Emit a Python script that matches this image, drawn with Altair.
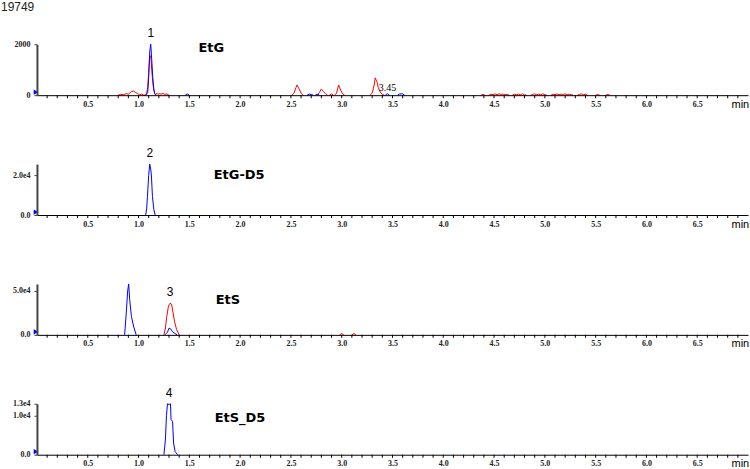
import altair as alt
import pandas as pd

X_DOMAIN = [0.0, 7.0]

# ---------------- EtG panel ----------------
ETG_RED = [
    ([0.80, 0.82, 0.85, 0.88, 0.90, 0.93, 0.95, 0.97, 0.99, 1.01, 1.03, 1.05, 1.07, 1.08, 1.09, 1.10, 1.11, 1.12,
      1.13, 1.14, 1.15, 1.16, 1.17, 1.18, 1.19, 1.20, 1.22, 1.24, 1.26, 1.28, 1.30],
     [0, 30, 20, 60, 40, 140, 160, 110, 60, 20, 40, 10, 0, 80, 300, 900, 1500, 1550,
      1000, 500, 200, 60, 20, 80, 30, 60, 40, 70, 30, 50, 0]),
    ([2.51, 2.53, 2.55, 2.56, 2.58, 2.60, 2.62], [0, 80, 300, 400, 250, 80, 0]),
    ([2.76, 2.78, 2.80, 2.82, 2.84, 2.86], [0, 100, 240, 150, 60, 0]),
    ([2.88, 2.90, 2.92], [0, 50, 0]),
    ([2.93, 2.95, 2.96, 2.97, 2.99, 3.01, 3.03], [0, 80, 250, 400, 200, 50, 0]),
    ([3.28, 3.30, 3.32, 3.33, 3.35, 3.36, 3.38, 3.40, 3.42], [0, 80, 400, 680, 500, 300, 120, 30, 0]),
    ([4.37, 4.39, 4.41], [0, 30, 0]),
    ([4.45, 4.47, 4.49, 4.51, 4.53, 4.55, 4.57, 4.59, 4.61, 4.63, 4.65], [0, 40, 20, 50, 20, 50, 30, 40, 20, 30, 0]),
    ([4.68, 4.70, 4.72, 4.74, 4.76, 4.78, 4.80, 4.82], [0, 40, 20, 40, 20, 50, 20, 0]),
    ([4.86, 4.88, 4.90, 4.92, 4.94, 4.96, 4.98, 5.00, 5.02], [0, 30, 50, 20, 40, 20, 50, 20, 0]),
    ([5.06, 5.08, 5.10, 5.12, 5.14, 5.16, 5.18, 5.20, 5.22, 5.24, 5.26, 5.28], [0, 40, 20, 50, 20, 40, 30, 50, 20, 40, 20, 0]),
    ([5.32, 5.34, 5.36, 5.38, 5.40, 5.42], [0, 30, 50, 20, 40, 0]),
    ([5.50, 5.52, 5.54], [0, 30, 0]),
    ([5.60, 5.62, 5.64], [0, 30, 0]),
]
ETG_BLUE = [
    ([1.07, 1.09, 1.10, 1.11, 1.12, 1.13, 1.14, 1.15, 1.16, 1.17], [0, 100, 700, 1700, 2000, 1400, 700, 250, 60, 0]),
    ([1.46, 1.48, 1.50], [0, 50, 0]),
    ([2.66, 2.68, 2.70, 2.72], [0, 40, 30, 0]),
    ([2.74, 2.76, 2.78], [0, 40, 0]),
    ([3.43, 3.45, 3.47], [0, 60, 0]),
    ([3.55, 3.57, 3.60, 3.62], [0, 50, 50, 0]),
]

# ---------------- EtG-D5 panel ----------------
ETGD5_RED = []
ETGD5_BLUE = [
    ([1.07, 1.08, 1.088, 1.10, 1.11, 1.12, 1.127, 1.137, 1.15, 1.163],
     [0, 3000, 9400, 20000, 25600, 23000, 19600, 9400, 3000, 0]),
]

# ---------------- EtS panel ----------------
ETS_RED = [
    ([1.25, 1.265, 1.278, 1.295, 1.31, 1.325, 1.34, 1.355, 1.375, 1.40],
     [0, 8000, 21000, 33000, 36000, 35000, 25000, 15000, 6000, 0]),
    ([2.98, 3.00, 3.02], [0, 1500, 0]),
    ([3.10, 3.12, 3.14], [0, 1500, 0]),
]
ETS_BLUE = [
    ([0.863, 0.88, 0.893, 0.903, 0.913, 0.93, 0.953, 0.977], [0, 26000, 50000, 58000, 40000, 21000, 9000, 0]),
    ([1.26, 1.285, 1.30, 1.315, 1.335, 1.36, 1.38], [0, 3000, 7600, 7000, 3500, 1500, 0]),
]

# ---------------- EtS_D5 panel ----------------
ETSD5_RED = []
ETSD5_BLUE = [
    ([1.25, 1.265, 1.275, 1.285, 1.30, 1.315, 1.32, 1.335, 1.345, 1.36, 1.385],
     [0, 4000, 10000, 13000, 12800, 13000, 9000, 8500, 3000, 800, 0]),
]

# panel settings
COMPOUNDS = ["EtG", "EtG-D5", "EtS", "EtS_D5"]
Y_MAX = [2000, 25600, 58000, 13000]
Y_TICKS = [[0, 2000], [0, 20000], [0, 50000], [0, 10000, 13000]]
PEAK_LABELS = ["1", "2", "3", "4"]
PEAK_RT = [1.12, 1.11, 1.31, 1.30]
PEAK_APEX = [2000, 25600, 36000, 13000]
NAME_RT = [1.59, 1.74, 1.76, 1.75]
NAME_Y = [1840, 20000, 39800, 9470]
HEADER = "19749"
EXTRA_LABEL = "3.45"
EXTRA_RT = 3.45
EXTRA_Y = 280

TRACES = [(ETG_RED, ETG_BLUE), (ETGD5_RED, ETGD5_BLUE), (ETS_RED, ETS_BLUE), (ETSD5_RED, ETSD5_BLUE)]

X_LABELS = [0.5, 1.0, 1.5, 2.0, 2.5, 3.0, 3.5, 4.0, 4.5, 5.0, 5.5, 6.0, 6.5]
X_MINOR = [round(i * 0.1, 1) for i in range(1, 70)]
RED = "#ff0000"
BLUE = "#0000ff"
PANEL_W = 712
PANEL_H = 51


def seg_frame(segments):
    rows = []
    for k, (ts, vs) in enumerate(segments):
        for t, v in zip(ts, vs):
            rows.append({"t": t, "v": v, "seg": k})
    return pd.DataFrame(rows, columns=["t", "v", "seg"])


X_AXIS = alt.Axis(
    values=X_LABELS, format=".1f",
    title="min", titleX=695, titleY=9, titleAlign="left", titleBaseline="middle",
    titleFont="Liberation Sans", titleFontSize=11, titleFontWeight="normal", titleColor="#000000",
    ticks=False, tickSize=0, domainColor="#000000", domainWidth=1,
    labelPadding=5, labelFont="Liberation Serif", labelFontSize=8, labelFontWeight="bold",
    labelColor="#222222", labelOverlap=False, labelFlush=False, grid=False, zindex=1,
)


def y_axis(i):
    if i == 0:
        expr = "format(datum.value, 'd')"
    else:
        expr = "datum.value == 0 ? '0.0' : replace(format(datum.value, '.1e'), '+', '')"
    return alt.Axis(
        values=Y_TICKS[i], labelExpr=expr, title=None, grid=False,
        tickSize=3, tickColor="#444444", domainColor="#444444", domainWidth=2,
        labelPadding=4, labelFont="Liberation Serif", labelFontSize=8, labelFontWeight="bold",
        labelColor="#222222", labelOverlap=False, labelBound=False, zindex=1,
    )


def panel(i):
    xs = alt.Scale(domain=X_DOMAIN, nice=False, zero=False)
    ys = alt.Scale(domain=[0, Y_MAX[i]], nice=False)
    ya = y_axis(i)

    def X():
        return alt.X("t:Q", scale=xs, axis=X_AXIS)

    def Y():
        return alt.Y("v:Q", scale=ys, axis=ya)

    red, blue = TRACES[i]
    layers = []
    for segs, col in ((red, RED), (blue, BLUE)):
        if not segs:
            continue
        layers.append(
            alt.Chart(seg_frame(segs)).mark_line(color=col, strokeWidth=1).encode(
                x=X(), y=Y(), detail="seg:N", order="t:Q"
            )
        )
    # minor ticks every 0.1 min below the time axis
    layers.append(
        alt.Chart(pd.DataFrame({"t": X_MINOR})).mark_tick(
            color="#000000", thickness=1, size=3, orient="vertical", opacity=1
        ).encode(x=X(), y=alt.value(PANEL_H + 1.5))
    )
    # small blue marker at the origin
    layers.append(
        alt.Chart(pd.DataFrame({"t": [0.0], "v": [0.0]})).mark_point(
            shape="triangle-right", filled=True, color=BLUE, size=28, opacity=1, xOffset=-1, yOffset=-3
        ).encode(x=X(), y=Y())
    )
    # peak number
    layers.append(
        alt.Chart(pd.DataFrame({"t": [PEAK_RT[i]], "v": [PEAK_APEX[i]], "lab": [PEAK_LABELS[i]]})).mark_text(
            font="Liberation Sans", fontSize=12, color="#000000", dy=-11, baseline="middle"
        ).encode(x=X(), y=Y(), text="lab:N")
    )
    # compound name
    layers.append(
        alt.Chart(pd.DataFrame({"t": [NAME_RT[i]], "v": [NAME_Y[i]], "lab": [COMPOUNDS[i]]})).mark_text(
            font="DejaVu Sans", fontSize=13, fontWeight="bold", color="#000000", align="left", baseline="middle"
        ).encode(x=X(), y=Y(), text="lab:N")
    )
    if i == 0:
        layers.append(
            alt.Chart(pd.DataFrame({"t": [EXTRA_RT], "v": [EXTRA_Y], "lab": [EXTRA_LABEL]})).mark_text(
                font="Liberation Serif", fontSize=10, color="#000000", baseline="middle"
            ).encode(x=X(), y=Y(), text="lab:N")
        )
        layers.append(
            alt.Chart(pd.DataFrame({"lab": [HEADER]})).mark_text(
                font="Liberation Sans", fontSize=12, color="#222222", align="left", baseline="middle"
            ).encode(x=alt.value(-36), y=alt.value(-37), text="lab:N")
        )
    return alt.layer(*layers).properties(width=PANEL_W, height=PANEL_H)


chart = alt.vconcat(*[panel(i) for i in range(4)], spacing=69, bounds="flush").resolve_scale(
    y="independent"
).properties(
    padding={"left": 0, "top": 0, "right": 0, "bottom": 0}, background="#ffffff"
).configure_view(stroke="transparent").configure_axis(labelOverlap=False)

chart.save("out.html", embed_options={"renderer": "svg", "actions": False})
